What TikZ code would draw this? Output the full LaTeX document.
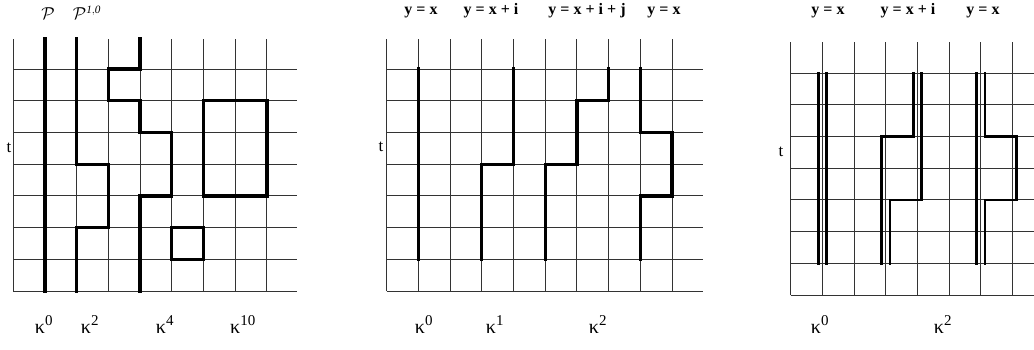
\documentclass[tikz,border=0pt]{standalone}
\usepackage{fontspec}
\setmainfont{Liberation Serif}
\tikzset{
  gridline/.style={draw=black!80, line width=0.9pt},
  thickpath/.style={draw=black, line width=3.3pt, line join=miter, line cap=rect},
  dblpath/.style={draw=black, line width=2.7pt, line join=miter, line cap=rect},
  eqlabel/.style={font=\fontsize{16}{18}\selectfont\bfseries, anchor=base, inner sep=0pt},
  kaplabel/.style={font=\fontsize{20}{22}\selectfont, anchor=base, inner sep=0pt},
  tlabel/.style={font=\fontsize{17}{19}\selectfont, inner sep=0pt},
  plabel/.style={font=\fontsize{16}{18}\selectfont, inner sep=0pt}
}
\newcommand{\kap}[1]{κ\textsuperscript{\fontsize{15}{16}\selectfont #1}}
\begin{document}
\begin{tikzpicture}
\useasboundingbox (0pt,0pt) rectangle (1034pt,-349pt);

% ---------- left panel ----------
\begin{scope}[shift={(13.3pt,-291pt)}, x=31.7pt, y=31.7pt]
  \foreach \i in {0,...,8} \draw[gridline] (\i,0) -- (\i,7.95);
  \foreach \j in {0,...,7} \draw[gridline] (0,\j) -- (8.95,\j);
  \draw[thickpath] (1,0) -- (1,7.95);
  \draw[thickpath] (2,7.95) -- (2,4) -- (3,4) -- (3,2) -- (2,2) -- (2,0);
  \draw[thickpath] (4,7.95) -- (4,7) -- (3,7) -- (3,6) -- (4,6) -- (4,5) -- (5,5) -- (5,3) -- (4,3) -- (4,0);
  \draw[thickpath] (6,3) rectangle (8,6);
  \draw[thickpath] (5,1) rectangle (6,2);
\end{scope}
\node[plabel] (p0) at (48pt,-14pt) {$\mathcal{P}$};
\node[plabel] (p1) at (87pt,-13pt) {$\mathcal{P}^{\mathit{1,0}}$};
\node[tlabel] (tl) at (9pt,-148pt) {t};
\node[kaplabel] (kl0) at (44pt,-333pt) {\kap{0}};
\node[kaplabel] (kl2) at (90pt,-333pt) {\kap{2}};
\node[kaplabel] (kl4) at (165pt,-333pt) {\kap{4}};
\node[kaplabel] (kl10) at (243pt,-333pt) {\kap{10}};

% ---------- middle panel ----------
\begin{scope}[shift={(386.7pt,-291pt)}, x=31.7pt, y=31.7pt]
  \foreach \i in {0,...,9} \draw[gridline] (\i,0) -- (\i,7.95);
  \foreach \j in {0,...,7} \draw[gridline] (0,\j) -- (9.98,\j);
  \draw[thickpath] (1,7) -- (1,1);
  \draw[thickpath] (4,7) -- (4,4) -- (3,4) -- (3,1);
  \draw[thickpath] (7,7) -- (7,6) -- (6,6) -- (6,4) -- (5,4) -- (5,1);
  \draw[thickpath] (8,7) -- (8,5) -- (9,5) -- (9,3) -- (8,3) -- (8,1);
\end{scope}
\node[eqlabel] (m1) at (421pt,-14pt) {y = x};
\node[eqlabel] (m2) at (491pt,-14pt) {y = x + i};
\node[eqlabel] (m3) at (587pt,-14pt) {y = x + i + j};
\node[eqlabel] (m4) at (664pt,-14pt) {y = x};
\node[tlabel] (tm) at (381pt,-147pt) {t};
\node[kaplabel] (km0) at (424pt,-333pt) {\kap{0}};
\node[kaplabel] (km1) at (495pt,-333pt) {\kap{1}};
\node[kaplabel] (km2) at (598pt,-333pt) {\kap{2}};

% ---------- right panel ----------
\begin{scope}[shift={(790.7pt,-295pt)}, x=31.7pt, y=31.7pt]
  \def\d{0.13}
  \foreach \i in {0,...,7} \draw[gridline] (\i,0) -- (\i,7.99);
  \foreach \j in {0,...,7} \draw[gridline] (0,\j) -- (8,\j);
  \draw[dblpath] (1-\d,7) -- (1-\d,1);
  \draw[dblpath] (1+\d,7) -- (1+\d,1);
  \draw[dblpath] (4-\d,7) -- (4-\d,5) -- (3-\d,5) -- (3-\d,1);
  \draw[dblpath] (4+\d,7) -- (4+\d,3) -- (3+\d,3) -- (3+\d,1);
  \draw[dblpath] (6-\d,7) -- (6-\d,1);
  \draw[dblpath] (6+\d,7) -- (6+\d,5) -- (7+\d,5) -- (7+\d,3) -- (6+\d,3) -- (6+\d,1);
\end{scope}
\node[eqlabel] (r1) at (828pt,-14pt) {y = x};
\node[eqlabel] (r2) at (908pt,-14pt) {y = x + i};
\node[eqlabel] (r3) at (983pt,-14pt) {y = x};
\node[tlabel] (tr) at (781pt,-152pt) {t};
\node[kaplabel] (kr0) at (820pt,-333pt) {\kap{0}};
\node[kaplabel] (kr2) at (943pt,-333pt) {\kap{2}};
\end{tikzpicture}
\end{document}
